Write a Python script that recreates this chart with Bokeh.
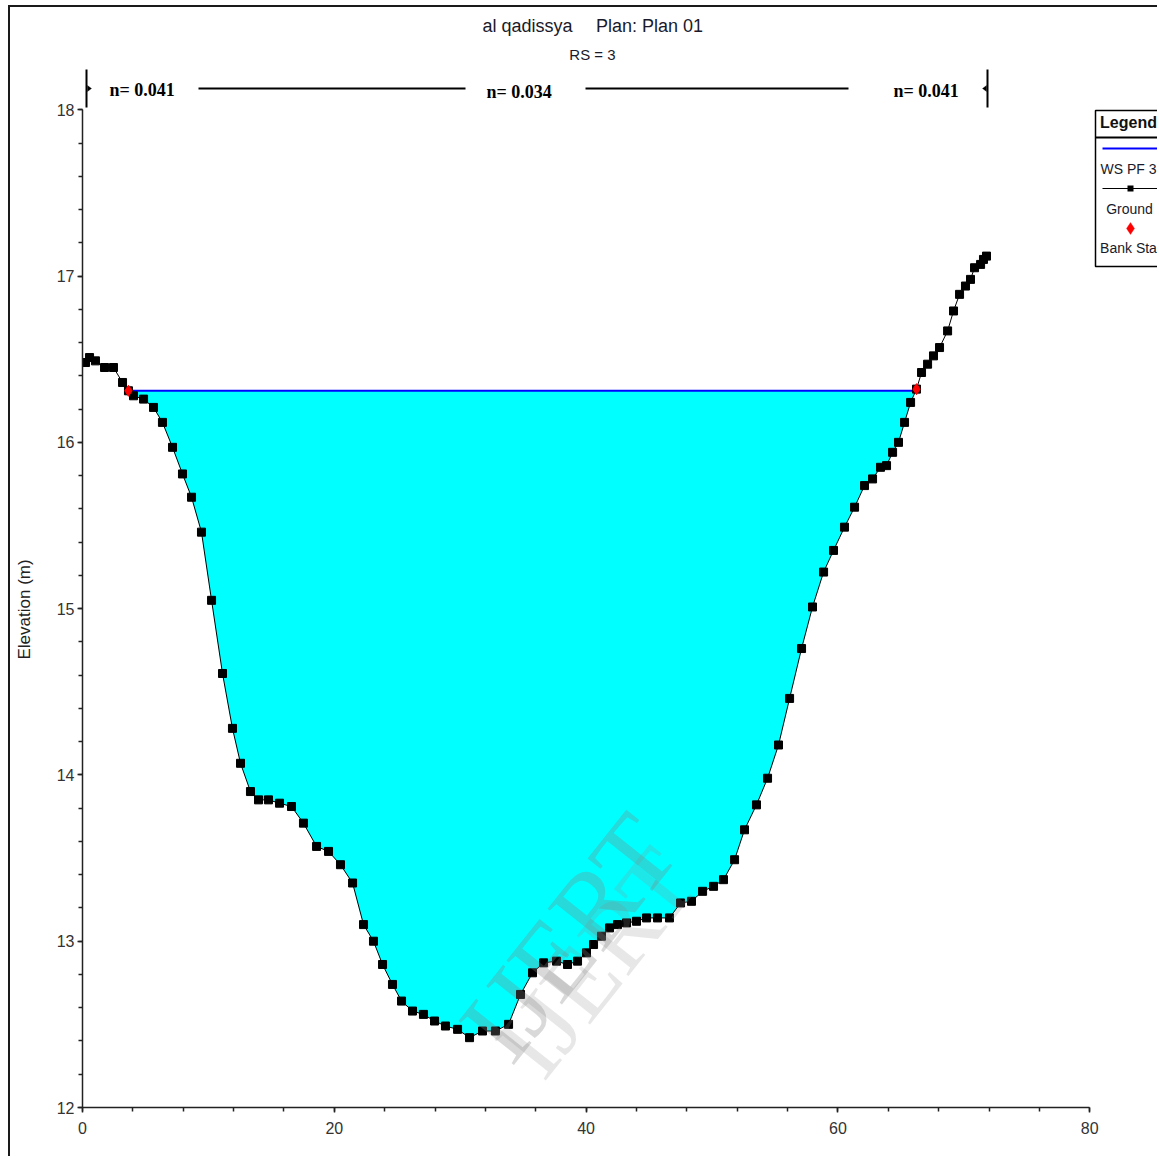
import numpy as np
from bokeh.plotting import figure
from bokeh.models import Range1d, Label, BoxAnnotation, PolyAnnotation, FixedTicker
from bokeh.embed import file_html
from bokeh.resources import INLINE

# ---- data ----
station = [0.24, 0.56, 1.03, 1.75, 2.46, 3.18, 3.65, 4.05, 4.85, 5.64, 6.35, 7.15, 7.94, 8.66,
           9.45, 10.25, 11.12, 11.91, 12.55, 13.34, 13.98, 14.77, 15.65, 16.60, 17.55, 18.59,
           19.54, 20.49, 21.45, 22.32, 23.11, 23.83, 24.62, 25.34, 26.21, 27.08, 27.96, 28.83,
           29.79, 30.74, 31.77, 32.80, 33.84, 34.79, 35.74, 36.62, 37.65, 38.52, 39.32, 40.03,
           40.59, 41.22, 41.86, 42.49, 43.21, 44.00, 44.80, 45.67, 46.62, 47.50, 48.37, 49.25,
           50.12, 50.91, 51.79, 52.58, 53.53, 54.41, 55.28, 56.16, 57.11, 57.98, 58.86, 59.65,
           60.52, 61.32, 62.11, 62.75, 63.38, 63.86, 64.34, 64.81, 65.29, 65.77, 66.24, 66.64,
           67.12, 67.59, 68.07, 68.71, 69.18, 69.66, 70.13, 70.53, 70.85, 71.33, 71.56, 71.80]
elevation = [16.48, 16.51, 16.49, 16.45, 16.45, 16.36, 16.31, 16.28, 16.26, 16.21, 16.12, 15.97,
             15.81, 15.67, 15.46, 15.05, 14.61, 14.28, 14.07, 13.90, 13.85, 13.85, 13.83, 13.81,
             13.71, 13.57, 13.54, 13.46, 13.35, 13.10, 13.00, 12.86, 12.74, 12.64, 12.58, 12.56,
             12.52, 12.49, 12.47, 12.42, 12.46, 12.46, 12.50, 12.68, 12.81, 12.87, 12.88, 12.86,
             12.88, 12.93, 12.98, 13.03, 13.08, 13.10, 13.11, 13.12, 13.14, 13.14, 13.14, 13.23,
             13.24, 13.30, 13.33, 13.37, 13.49, 13.67, 13.82, 13.98, 14.18, 14.46, 14.76, 15.01,
             15.22, 15.35, 15.49, 15.61, 15.74, 15.78, 15.85, 15.86, 15.94, 16.00, 16.12, 16.24,
             16.32, 16.42, 16.47, 16.52, 16.57, 16.67, 16.79, 16.89, 16.94, 16.98, 17.05, 17.07,
             17.10, 17.12]
ws_elev = 16.31
bank_sta = [3.65, 66.24]
n_values = ["n= 0.041", "n= 0.034", "n= 0.041"]
title_name = "al qadissya"
title_plan = "Plan: Plan 01"
title_rs = "RS = 3"
y_label = "Elevation (m)"
x_ticks = [0, 20, 40, 60, 80]
y_ticks = [12, 13, 14, 15, 16, 17, 18]
legend_title = "Legend"
legend_labels = ["WS PF 3", "Ground", "Bank Sta"]
watermark = "IJERT"

# ---- derived geometry ----
st = np.array(station)
el = np.array(elevation)
idx = np.where(el < ws_elev)[0]
i0, i1 = idx[0], idx[-1]
def cross(a, b):
    return st[a] + (ws_elev - el[a]) * (st[b] - st[a]) / (el[b] - el[a])
x_left = cross(i0 - 1, i0)
x_right = cross(i1, i1 + 1)
water_x = [x_left] + list(st[idx]) + [x_right]
water_y = [ws_elev] + list(el[idx]) + [ws_elev]
bank_el = list(np.interp(bank_sta, st, el))

SANS = "Liberation Sans"
W, H = 1149, 1151
p = figure(width=W, height=H, x_range=Range1d(0, 85.54), y_range=Range1d(12, 18.615),
           output_backend="svg", toolbar_location=None,
           min_border_left=72, min_border_right=0, min_border_top=0, min_border_bottom=51,
           styles={"margin-left": "8px", "margin-top": "5px",
                   "border-left": "2px solid #1a1a1a", "border-top": "2px solid #1a1a1a"})
p.outline_line_color = None
p.grid.visible = False
p.background_fill_color = "white"
p.border_fill_color = "white"

p.xaxis.ticker = FixedTicker(ticks=x_ticks, minor_ticks=list(np.arange(0, 80.1, 4)))
p.yaxis.ticker = FixedTicker(ticks=y_ticks, minor_ticks=list(np.arange(12, 18.01, 0.2)))
p.xaxis.bounds = (0, 80)
p.yaxis.bounds = (12, 18)
for ax in (p.xaxis, p.yaxis):
    ax.axis_line_color = "#222222"
    ax.axis_line_width = 1.5
    ax.major_tick_line_color = "#222222"
    ax.minor_tick_line_color = "#222222"
    ax.major_tick_line_width = 1.5
    ax.minor_tick_line_width = 1.5
    ax.major_tick_in = 0
    ax.major_tick_out = 5
    ax.minor_tick_in = 0
    ax.minor_tick_out = 4
    ax.major_label_text_font = SANS
    ax.major_label_text_font_size = "16px"
    ax.major_label_text_color = "#333333"
p.xaxis.major_label_standoff = 9
p.yaxis.major_label_standoff = 3
# axis title: trailing no-break spaces push the visible text down so that it is
# centred on the 12-18 span of the axis rather than on the taller frame
p.yaxis.axis_label = y_label + "\u00a0" * 22
p.yaxis.axis_label_text_font = SANS
p.yaxis.axis_label_text_font_style = "normal"
p.yaxis.axis_label_text_font_size = "17px"
p.yaxis.axis_label_text_color = "#222222"
p.yaxis.axis_label_standoff = 20

# water
p.patch(water_x, water_y, fill_color="#00FFFF", line_color=None)
p.line([x_left, x_right], [ws_elev, ws_elev], line_color="#0000FF", line_width=2)
# watermark (two overlapping copies, as in the source image)
p.add_layout(Label(x=514, y=145, x_units="screen", y_units="screen", text=watermark,
                   text_font="Liberation Serif", text_font_size="100px", text_color="#909090",
                   text_alpha=0.22, angle=0.9, text_align="center", text_baseline="middle"))
p.add_layout(Label(x=486, y=170, x_units="screen", y_units="screen", text=watermark,
                   text_font="Liberation Serif", text_font_size="108px", text_color="#808080",
                   text_alpha=0.3, angle=0.9, text_align="center", text_baseline="middle"))
# ground
p.line(station, elevation, line_color="black", line_width=1)
p.scatter(station, elevation, marker="square", size=8, color="black")
p.scatter(bank_sta, bank_el, marker="diamond", size=11, color="red")

# titles
def lab(x, y, text, size, font=SANS, align="left", style="normal", color="#1a1a2a"):
    p.add_layout(Label(x=x, y=y, x_units="screen", y_units="screen", text=text,
                       text_font=font, text_font_size=size, text_font_style=style,
                       text_color=color, text_align=align, text_baseline="middle"))

lab(445, 1082, title_name, "18px", align="center")
lab(567, 1082, title_plan, "18px", align="center")
lab(510, 1053, title_rs, "15px", align="center")

# Manning's n bar
for (x, y), t in zip([(27, 1018), (404, 1016), (811, 1017)], n_values):
    lab(x, y, t, "18px", font="Liberation Serif", style="bold", color="black")
def box(l, r, b, t, color="black", alpha=1.0, line=None, lw=1):
    p.add_layout(BoxAnnotation(left=l, right=r, bottom=b, top=t,
                               left_units="screen", right_units="screen",
                               bottom_units="screen", top_units="screen",
                               fill_color=color, fill_alpha=alpha,
                               line_color=line, line_width=lw, line_alpha=1 if line else 0))
box(116, 383, 1018, 1020)
box(503, 766, 1018, 1020)
box(3, 5, 1000, 1038)
box(904, 906, 1000, 1038)
p.add_layout(PolyAnnotation(xs=[5, 9, 5], ys=[1016, 1019, 1022], xs_units="screen", ys_units="screen",
                            fill_color="black", fill_alpha=1, line_color="black"))
p.add_layout(PolyAnnotation(xs=[904, 900, 904], ys=[1016, 1019, 1022], xs_units="screen", ys_units="screen",
                            fill_color="black", fill_alpha=1, line_color="black"))

# legend
box(1013, 1100, 841, 997, color="white", line="black", lw=1.5)
box(1013, 1100, 969, 971)
lab(1046, 985, legend_title, "16px", align="center", color="#111111", style="bold")
box(1020, 1100, 958, 960, color="#0000FF")
lab(1046, 939, legend_labels[0], "14px", align="center")
box(1020, 1100, 918.5, 919.5)
box(1045, 1051, 916, 922)
lab(1047, 899, legend_labels[1], "14px", align="center")
p.add_layout(PolyAnnotation(xs=[1048, 1052, 1048, 1044], ys=[885, 879, 873, 879],
                            xs_units="screen", ys_units="screen",
                            fill_color="red", fill_alpha=1, line_color="red"))
lab(1046, 860, legend_labels[2], "14px", align="center")

open("out.html", "w").write(file_html(p, INLINE))
